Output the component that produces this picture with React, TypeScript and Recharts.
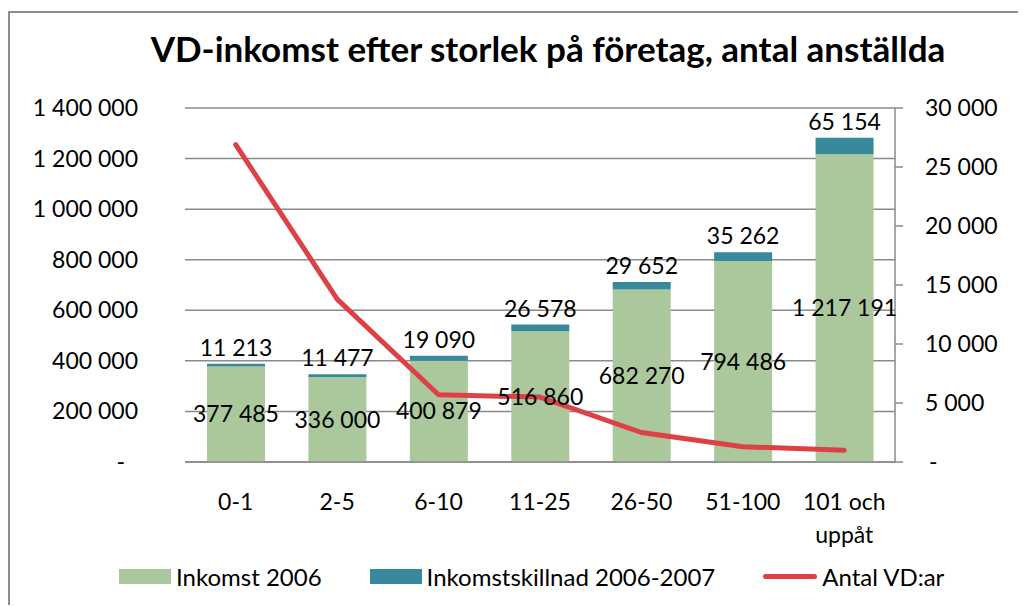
import React from 'react';
import { ComposedChart, Bar, Line, XAxis, YAxis, CartesianGrid, Legend, LabelList } from 'recharts';

const categories = ['0-1', '2-5', '6-10', '11-25', '26-50', '51-100', '101 och uppåt'];
const inkomst2006 = [377485, 336000, 400879, 516860, 682270, 794486, 1217191];
const inkomstskillnad = [11213, 11477, 19090, 26578, 29652, 35262, 65154];
const antalVD = [26900, 13800, 5700, 5500, 2500, 1300, 1000];
const leftTicks = [0, 200000, 400000, 600000, 800000, 1000000, 1200000, 1400000];
const rightTicks = [0, 5000, 10000, 15000, 20000, 25000, 30000];

const GREEN = '#abc79c';
const TEAL = '#38899c';
const RED = '#dd4146';
const GRID = '#8a8a8a';
const FONT = 'Lato, "Open Sans", sans-serif';

const data = categories.map((c, i) => ({
    name: c,
    inkomst: inkomst2006[i],
    skillnad: inkomstskillnad[i],
    antal: antalVD[i],
}));

const fmt = (n: number) => (n === 0 ? '-' : String(Math.round(n)).replace(/\B(?=(\d{3})+(?!\d))/g, ' '));

const LeftTick = (props: any) => {
    const { x, y, payload } = props;
    const v = payload.value;
    return (
        <text x={v === 0 ? x - 13 : x} y={y} dy={8} textAnchor="end" fontSize={23} fill="#000" fontFamily={FONT}>
            {fmt(v)}
        </text>
    );
};

const RightTick = (props: any) => {
    const { x, y, payload } = props;
    return (
        <text x={payload.value === 0 ? x + 4 : x} y={y} dy={8} textAnchor="start" fontSize={23} fill="#000" fontFamily={FONT}>
            {fmt(payload.value)}
        </text>
    );
};

const CatTick = (props: any) => {
    const { x, y, payload } = props;
    const words = String(payload.value).split(' ');
    const lines = words.length > 2 ? [words.slice(0, 2).join(' '), words.slice(2).join(' ')] : [payload.value];
    return (
        <text x={x} y={y + 40} textAnchor="middle" fontSize={23} fill="#000" fontFamily={FONT}>
            {lines.map((l: string, i: number) => (
                <tspan key={i} x={x} dy={i === 0 ? 0 : 33}>{l}</tspan>
            ))}
        </text>
    );
};

// labels without wrapping, centred in the segment or just above it
const CenterLabel = (props: any) => {
    const { x, y, width, height, value } = props;
    return (
        <text x={x + width / 2} y={y + height / 2} dy={8} textAnchor="middle" fontSize={23} fill="#000" fontFamily={FONT}>
            {fmt(Number(value))}
        </text>
    );
};

const TopLabel = (props: any) => {
    const { x, y, width, value } = props;
    return (
        <text x={x + width / 2} y={y} dy={-8} textAnchor="middle" fontSize={23} fill="#000" fontFamily={FONT}>
            {fmt(Number(value))}
        </text>
    );
};

const LegendContent = () => {
    const items = [
        { label: 'Inkomst 2006', color: GREEN, type: 'rect' },
        { label: 'Inkomstskillnad 2006-2007', color: TEAL, type: 'rect' },
        { label: 'Antal VD:ar', color: RED, type: 'line' },
    ];
    return (
        <div style={{ display: 'flex', alignItems: 'center', fontFamily: FONT, fontSize: 24, color: '#000' }}>
            {items.map((it, i) => (
                <div key={i} style={{ display: 'flex', alignItems: 'center', marginLeft: i === 0 ? 109 : 48 }}>
                    {it.type === 'rect' ? (
                        <div style={{ width: 52, height: 15, background: it.color, marginRight: 5 }} />
                    ) : (
                        <div style={{ width: 54, height: 5, borderRadius: 3, background: it.color, marginRight: 5 }} />
                    )}
                    <span>{it.label}</span>
                </div>
            ))}
        </div>
    );
};

export default function App() {
    return (
        <div style={{ paddingTop: 3 }}>
            <div
                style={{
                    position: 'relative',
                    width: 1016,
                    height: 592,
                    borderLeft: '2px solid #8c8c8c',
                    borderTop: '2px solid #8c8c8c',
                    fontFamily: FONT,
                }}
            >
                <div
                    style={{
                        position: 'absolute',
                        top: 14,
                        left: 0,
                        width: 1076,
                        textAlign: 'center',
                        fontWeight: 700,
                        fontSize: 35,
                        color: '#000',
                        whiteSpace: 'nowrap',
                    }}
                >
                    VD-inkomst efter storlek på företag, antal anställda
                </div>
                <ComposedChart
                    width={1016}
                    height={590}
                    data={data}
                    margin={{ top: 95, right: 0, bottom: 0, left: 0 }}
                >
                    <CartesianGrid yAxisId="left" vertical={false} stroke={GRID} strokeWidth={1.5} />
                    <XAxis
                        dataKey="name"
                        height={141}
                        interval={0}
                        tick={<CatTick />}
                        tickLine={false}
                        axisLine={{ stroke: GRID, strokeWidth: 1.5 }}
                    />
                    <YAxis
                        yAxisId="left"
                        width={175}
                        domain={[0, 1400000]}
                        ticks={leftTicks}
                        tick={<LeftTick />}
                        tickLine={false}
                        axisLine={false}
                        tickSize={0}
                        tickMargin={47}
                    />
                    <YAxis
                        yAxisId="right"
                        orientation="right"
                        width={131}
                        domain={[0, 30000]}
                        ticks={rightTicks}
                        tick={<RightTick />}
                        axisLine={{ stroke: GRID, strokeWidth: 1.5 }}
                        tickLine={{ stroke: GRID, strokeWidth: 1.5 }}
                        tickSize={8}
                        tickMargin={22}
                    />
                    <Bar yAxisId="left" dataKey="inkomst" stackId="a" fill={GREEN} barSize={58} isAnimationActive={false}>
                        <LabelList dataKey="inkomst" content={<CenterLabel />} />
                    </Bar>
                    <Bar yAxisId="left" dataKey="skillnad" stackId="a" fill={TEAL} barSize={58} isAnimationActive={false}>
                        <LabelList dataKey="skillnad" content={<TopLabel />} />
                    </Bar>
                    <Line
                        yAxisId="right"
                        dataKey="antal"
                        type="linear"
                        stroke={RED}
                        strokeWidth={5}
                        strokeLinecap="round"
                        strokeLinejoin="round"
                        dot={false}
                        activeDot={false}
                        isAnimationActive={false}
                    />
                    <Legend
                        layout="horizontal"
                        verticalAlign="middle"
                        align="center"
                        wrapperStyle={{ top: 549, left: 0, width: 1016 }}
                        content={<LegendContent />}
                    />
                </ComposedChart>
            </div>
        </div>
    );
}
